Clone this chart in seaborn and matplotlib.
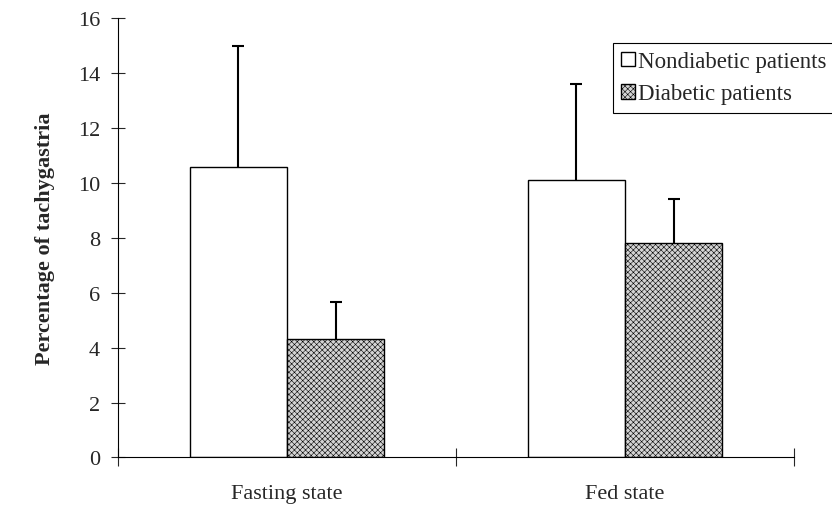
import pandas as pd
import matplotlib
matplotlib.use("Agg")
import matplotlib.pyplot as plt
import seaborn as sns

# Data
states = ["Fasting state", "Fed state"]
groups = ["Nondiabetic patients", "Diabetic patients"]
nondiabetic = [10.6, 10.1]
diabetic = [4.3, 7.8]
nondiabetic_sd = [4.4, 3.5]
diabetic_sd = [1.35, 1.6]

df = pd.DataFrame({
    "state": states * 2,
    "group": [groups[0]] * 2 + [groups[1]] * 2,
    "value": nondiabetic + diabetic,
})
errs = nondiabetic_sd + diabetic_sd

sns.set_style("white")
plt.rcParams["font.family"] = ["Liberation Serif", "DejaVu Serif"]
plt.rcParams["hatch.color"] = "#a6a6a6"
plt.rcParams["hatch.linewidth"] = 0.4

fig = plt.figure(figsize=(8.32, 5.06), dpi=100)
ax = fig.add_axes([0.1418, 0.0939, 0.8125, 0.868])

sns.barplot(data=df, x="state", y="value", hue="group",
            palette=["white", "#d4d4d4"], edgecolor="black", linewidth=1.0,
            width=0.575, errorbar=None, ax=ax)

for bar in ax.containers[1]:
    bar.set_hatch("xxxxxx")

# one-sided (upper) error bars
patches = list(ax.containers[0]) + list(ax.containers[1])
for p, e in zip(patches, errs):
    xc = p.get_x() + p.get_width() / 2
    h = p.get_height()
    ax.vlines(xc, h, h + e, color="black", linewidth=1.5)
    ax.plot(xc, h + e, marker="_", color="black", ms=9, mew=1.5)

ax.set_xlim(-0.5, 1.5)
ax.set_ylim(0, 16)
ax.set_yticks(range(0, 17, 2))
ax.tick_params(axis="y", left=True, direction="inout", length=10, width=0.8,
               labelsize=16, pad=8)
ax.set_xticks([-0.5, 0.5, 1.5], labels=["", "", ""])
ax.set_xticks([0, 1], labels=states, minor=True)
ax.tick_params(axis="x", which="major", bottom=True, direction="inout", length=13, width=0.8)
ax.tick_params(axis="x", which="minor", bottom=True, length=0, labelsize=16, pad=19)

for s in ["top", "right"]:
    ax.spines[s].set_visible(False)
for s in ["left", "bottom"]:
    ax.spines[s].set_color("black")
    ax.spines[s].set_linewidth(0.8)

ax.set_xlabel("")
ax.set_ylabel("Percentage of tachygastria", fontsize=16, fontweight="bold", labelpad=16)

ax.legend(handles=[ax.containers[0][0], ax.containers[1][0]], labels=groups,
          loc="upper left", bbox_to_anchor=(613 / 832, 1 - 44 / 506),
          bbox_transform=fig.transFigure, fontsize=16.5, frameon=True,
          fancybox=False, edgecolor="black", framealpha=1,
          handlelength=0.6, handleheight=0.6, handletextpad=0.15,
          borderpad=0.35, labelspacing=0.5, borderaxespad=0)
ax.get_legend().get_frame().set_linewidth(0.8)

fig.savefig("out.png", dpi=100)
